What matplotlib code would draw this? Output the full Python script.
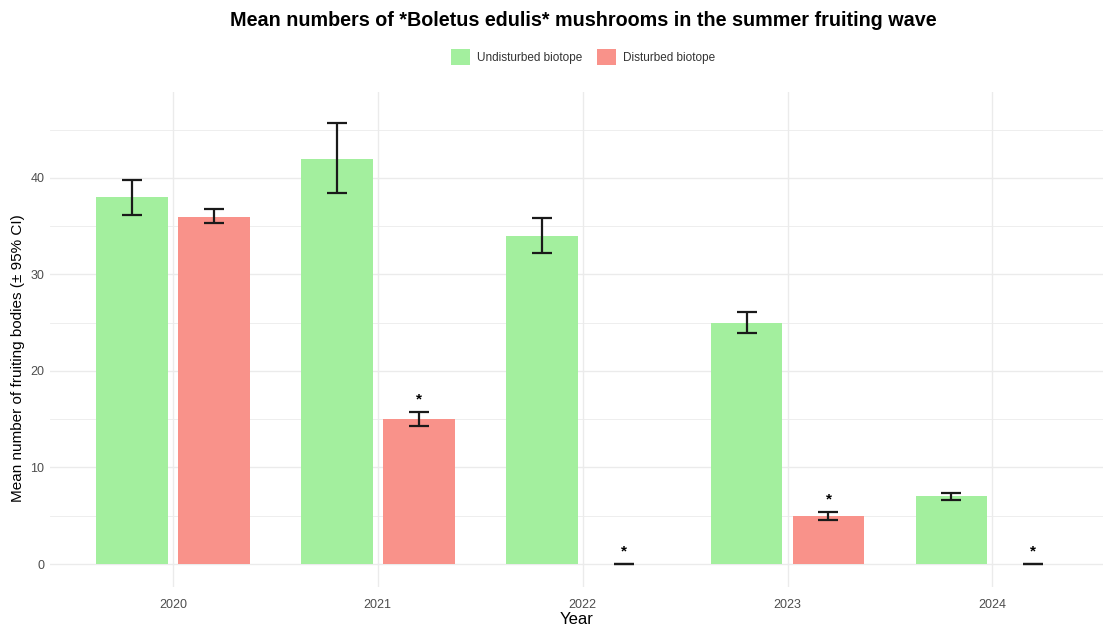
import matplotlib
matplotlib.use("Agg")
import matplotlib.pyplot as plt
import numpy as np
from matplotlib.patches import Patch

plt.rcParams['font.family'] = ['Liberation Sans', 'DejaVu Sans']

# data
years = [2020, 2021, 2022, 2023, 2024]
undisturbed = [38, 42, 34, 25, 7]
undisturbed_lo = [36.2, 38.4, 32.2, 23.9, 6.6]
undisturbed_hi = [39.8, 45.7, 35.8, 26.1, 7.4]
disturbed = [36, 15, 0, 5, 0]
disturbed_lo = [35.3, 14.3, 0, 4.6, 0]
disturbed_hi = [36.8, 15.7, 0, 5.35, 0]
significant = [False, True, True, True, True]

GREEN = "#a3ef9e"
SALMON = "#f9928a"
GRID = "#ebebeb"
TICK = "#4d4d4d"

fig = plt.figure(figsize=(11.03, 6.26), dpi=100)
ax = fig.add_axes([50 / 1103, 1 - 587 / 626, 1053 / 1103, (587 - 92) / 626])

x = np.array(years, dtype=float)
off = 0.2
w = 0.35

u = np.array(undisturbed, dtype=float)
d = np.array(disturbed, dtype=float)
ax.bar(x - off, u, width=w, color=GREEN, zorder=2)
ax.bar(x + off, d, width=w, color=SALMON, zorder=2)

u_err = [u - np.array(undisturbed_lo), np.array(undisturbed_hi) - u]
d_err = [d - np.array(disturbed_lo), np.array(disturbed_hi) - d]
ax.errorbar(x - off, u, yerr=u_err, fmt='none', ecolor='#1a1a1a',
            elinewidth=1.6, capsize=7.5, capthick=1.6, zorder=3)
ax.errorbar(x + off, d, yerr=d_err, fmt='none', ecolor='#1a1a1a',
            elinewidth=1.6, capsize=7.5, capthick=1.6, zorder=3)

for xi, hi, sig in zip(x + off, disturbed_hi, significant):
    if sig:
        ax.text(xi, hi + 0.6, "*", ha='center', va='bottom', fontsize=11,
                fontweight='bold', color='black', zorder=4)

ax.set_xlim(2019.4, 2024.54)
ax.set_ylim(-2.38, 48.9)
ax.set_xticks(years)
ax.set_xticklabels([str(y) for y in years])
ax.set_yticks([0, 10, 20, 30, 40])
ax.set_yticks([5, 15, 25, 35, 45], minor=True)
ax.grid(True, which='major', color=GRID, linewidth=1.0, zorder=0)
ax.grid(True, which='minor', axis='y', color=GRID, linewidth=0.6, zorder=0)
ax.set_axisbelow(True)
for s in ax.spines.values():
    s.set_visible(False)
ax.tick_params(which='both', length=0, labelsize=9, colors=TICK, pad=4)
ax.tick_params(axis='x', pad=9)

ax.set_xlabel("Year", fontsize=12, color='black')
ax.xaxis.set_label_coords(0.5, (587 - 619) / 495)
ax.xaxis.label.set_va('center')
ax.set_ylabel("Mean number of fruiting bodies (\u00b1 95% CI)", fontsize=11,
              color='black')
ax.yaxis.set_label_coords((18 - 50) / 1053, (587 - 358) / 495)
ax.yaxis.label.set_va('center')

fig.text(583 / 1103, 1 - 20 / 626, "Mean numbers of *Boletus edulis* mushrooms in the summer fruiting wave",
         ha='center', va='center', fontsize=14.2, fontweight='bold')

handles = [Patch(facecolor=GREEN, label="Undisturbed biotope"),
           Patch(facecolor=SALMON, label="Disturbed biotope")]
fig.legend(handles=handles, loc='center', bbox_to_anchor=(583 / 1103, 1 - 57 / 626),
           ncol=2, frameon=False, fontsize=8.5, handlelength=1.6, handleheight=1.6,
           columnspacing=1.2, handletextpad=0.6, labelcolor='#333333')

fig.savefig("out.png", dpi=100)
